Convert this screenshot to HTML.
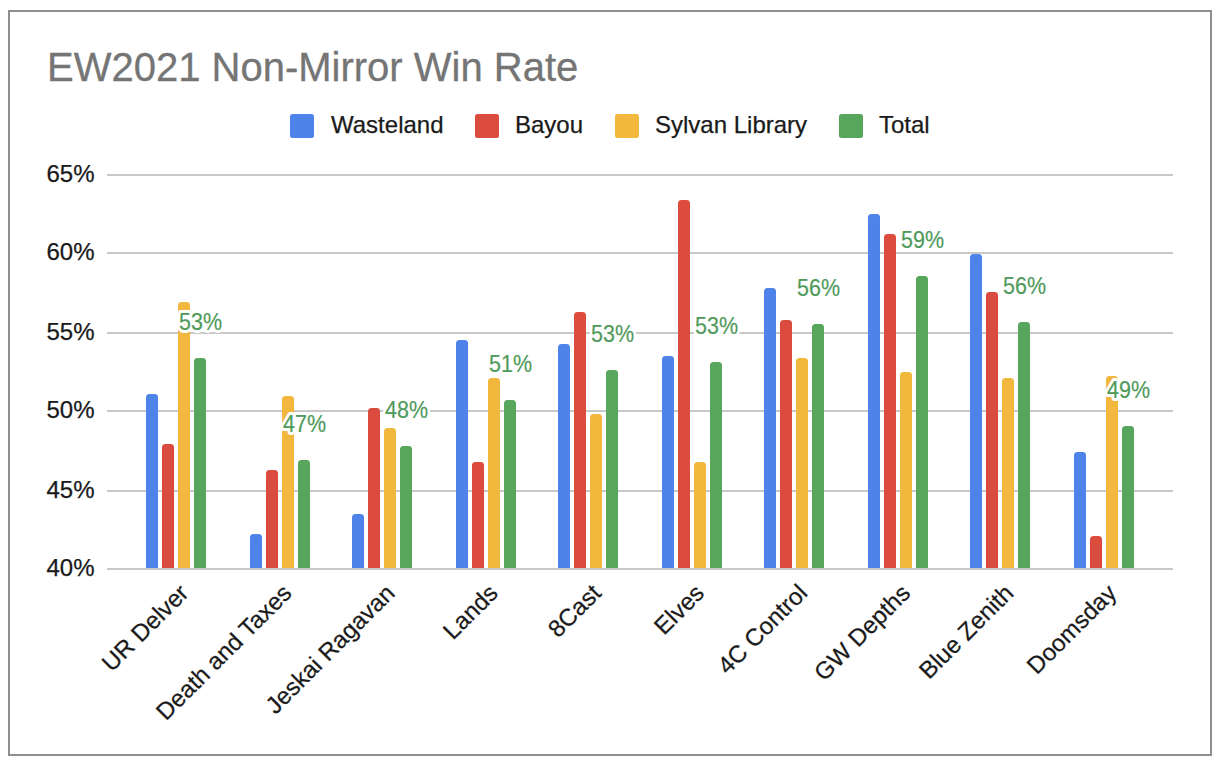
<!DOCTYPE html>
<html><head><meta charset="utf-8"><style>
html,body{margin:0;padding:0;background:#fff;width:1218px;height:762px;overflow:hidden}
svg{display:block}
.ax{font-family:"Liberation Sans",sans-serif;font-size:24px;fill:#1a1a1a;stroke:#1a1a1a;stroke-width:0.25px}
.an{font-family:"Liberation Sans",sans-serif;font-size:24px;fill:#fff;stroke:#fff;stroke-width:6px;stroke-linejoin:round}
.an2{font-family:"Liberation Sans",sans-serif;font-size:24px;fill:#509a5b;stroke:#509a5b;stroke-width:0.2px}
.ti{font-family:"Liberation Sans",sans-serif;font-size:40px;fill:#757575;stroke:#757575;stroke-width:0.3px}
.lg{font-family:"Liberation Sans",sans-serif;font-size:24px;fill:#1a1a1a;stroke:#1a1a1a;stroke-width:0.25px}
</style></head><body>
<svg width="1218" height="762" viewBox="0 0 1218 762">
<rect x="9" y="11" width="1202" height="744" fill="#fff" stroke="#8e8e8e" stroke-width="2"/>
<text x="47" y="80.5" class="ti">EW2021 Non-Mirror Win Rate</text>
<rect x="290" y="114" width="24" height="24" rx="2.5" fill="#4e83ea"/>
<text x="331" y="133" class="lg">Wasteland</text>
<rect x="475" y="114" width="24" height="24" rx="2.5" fill="#db4b3e"/>
<text x="515" y="133" class="lg">Bayou</text>
<rect x="615" y="114" width="24" height="24" rx="2.5" fill="#f2b83e"/>
<text x="655" y="133" class="lg">Sylvan Library</text>
<rect x="839" y="114" width="24" height="24" rx="2.5" fill="#58a55c"/>
<text x="879" y="133" class="lg">Total</text>
<rect x="107" y="174" width="1066" height="2" fill="#c8c8c8"/>
<rect x="107" y="252" width="1066" height="2" fill="#c8c8c8"/>
<rect x="107" y="332" width="1066" height="2" fill="#c8c8c8"/>
<rect x="107" y="410" width="1066" height="2" fill="#c8c8c8"/>
<rect x="107" y="490" width="1066" height="2" fill="#c8c8c8"/>
<rect x="107" y="568" width="1066" height="2" fill="#c8c8c8"/>
<text x="94.5" y="182" text-anchor="end" class="ax">65%</text>
<text x="94.5" y="260" text-anchor="end" class="ax">60%</text>
<text x="94.5" y="340" text-anchor="end" class="ax">55%</text>
<text x="94.5" y="418" text-anchor="end" class="ax">50%</text>
<text x="94.5" y="498" text-anchor="end" class="ax">45%</text>
<text x="94.5" y="576" text-anchor="end" class="ax">40%</text>
<path d="M146.00 568 V397.5 A3.5 3.5 0 0 1 149.50 394 H154.50 A3.5 3.5 0 0 1 158.00 397.5 V568 Z" fill="#4e83ea"/>
<path d="M162.00 568 V447.5 A3.5 3.5 0 0 1 165.50 444 H170.50 A3.5 3.5 0 0 1 174.00 447.5 V568 Z" fill="#db4b3e"/>
<path d="M178.00 568 V305.5 A3.5 3.5 0 0 1 181.50 302 H186.50 A3.5 3.5 0 0 1 190.00 305.5 V568 Z" fill="#f2b83e"/>
<path d="M194.00 568 V361.5 A3.5 3.5 0 0 1 197.50 358 H202.50 A3.5 3.5 0 0 1 206.00 361.5 V568 Z" fill="#58a55c"/>
<path d="M250.00 568 V537.5 A3.5 3.5 0 0 1 253.50 534 H258.50 A3.5 3.5 0 0 1 262.00 537.5 V568 Z" fill="#4e83ea"/>
<path d="M266.00 568 V473.5 A3.5 3.5 0 0 1 269.50 470 H274.50 A3.5 3.5 0 0 1 278.00 473.5 V568 Z" fill="#db4b3e"/>
<path d="M282.00 568 V399.5 A3.5 3.5 0 0 1 285.50 396 H290.50 A3.5 3.5 0 0 1 294.00 399.5 V568 Z" fill="#f2b83e"/>
<path d="M298.00 568 V463.5 A3.5 3.5 0 0 1 301.50 460 H306.50 A3.5 3.5 0 0 1 310.00 463.5 V568 Z" fill="#58a55c"/>
<path d="M352.00 568 V517.5 A3.5 3.5 0 0 1 355.50 514 H360.50 A3.5 3.5 0 0 1 364.00 517.5 V568 Z" fill="#4e83ea"/>
<path d="M368.00 568 V411.5 A3.5 3.5 0 0 1 371.50 408 H376.50 A3.5 3.5 0 0 1 380.00 411.5 V568 Z" fill="#db4b3e"/>
<path d="M384.00 568 V431.5 A3.5 3.5 0 0 1 387.50 428 H392.50 A3.5 3.5 0 0 1 396.00 431.5 V568 Z" fill="#f2b83e"/>
<path d="M400.00 568 V449.5 A3.5 3.5 0 0 1 403.50 446 H408.50 A3.5 3.5 0 0 1 412.00 449.5 V568 Z" fill="#58a55c"/>
<path d="M456.00 568 V343.5 A3.5 3.5 0 0 1 459.50 340 H464.50 A3.5 3.5 0 0 1 468.00 343.5 V568 Z" fill="#4e83ea"/>
<path d="M472.00 568 V465.5 A3.5 3.5 0 0 1 475.50 462 H480.50 A3.5 3.5 0 0 1 484.00 465.5 V568 Z" fill="#db4b3e"/>
<path d="M488.00 568 V381.5 A3.5 3.5 0 0 1 491.50 378 H496.50 A3.5 3.5 0 0 1 500.00 381.5 V568 Z" fill="#f2b83e"/>
<path d="M504.00 568 V403.5 A3.5 3.5 0 0 1 507.50 400 H512.50 A3.5 3.5 0 0 1 516.00 403.5 V568 Z" fill="#58a55c"/>
<path d="M558.00 568 V347.5 A3.5 3.5 0 0 1 561.50 344 H566.50 A3.5 3.5 0 0 1 570.00 347.5 V568 Z" fill="#4e83ea"/>
<path d="M574.00 568 V315.5 A3.5 3.5 0 0 1 577.50 312 H582.50 A3.5 3.5 0 0 1 586.00 315.5 V568 Z" fill="#db4b3e"/>
<path d="M590.00 568 V417.5 A3.5 3.5 0 0 1 593.50 414 H598.50 A3.5 3.5 0 0 1 602.00 417.5 V568 Z" fill="#f2b83e"/>
<path d="M606.00 568 V373.5 A3.5 3.5 0 0 1 609.50 370 H614.50 A3.5 3.5 0 0 1 618.00 373.5 V568 Z" fill="#58a55c"/>
<path d="M662.00 568 V359.5 A3.5 3.5 0 0 1 665.50 356 H670.50 A3.5 3.5 0 0 1 674.00 359.5 V568 Z" fill="#4e83ea"/>
<path d="M678.00 568 V203.5 A3.5 3.5 0 0 1 681.50 200 H686.50 A3.5 3.5 0 0 1 690.00 203.5 V568 Z" fill="#db4b3e"/>
<path d="M694.00 568 V465.5 A3.5 3.5 0 0 1 697.50 462 H702.50 A3.5 3.5 0 0 1 706.00 465.5 V568 Z" fill="#f2b83e"/>
<path d="M710.00 568 V365.5 A3.5 3.5 0 0 1 713.50 362 H718.50 A3.5 3.5 0 0 1 722.00 365.5 V568 Z" fill="#58a55c"/>
<path d="M764.00 568 V291.5 A3.5 3.5 0 0 1 767.50 288 H772.50 A3.5 3.5 0 0 1 776.00 291.5 V568 Z" fill="#4e83ea"/>
<path d="M780.00 568 V323.5 A3.5 3.5 0 0 1 783.50 320 H788.50 A3.5 3.5 0 0 1 792.00 323.5 V568 Z" fill="#db4b3e"/>
<path d="M796.00 568 V361.5 A3.5 3.5 0 0 1 799.50 358 H804.50 A3.5 3.5 0 0 1 808.00 361.5 V568 Z" fill="#f2b83e"/>
<path d="M812.00 568 V327.5 A3.5 3.5 0 0 1 815.50 324 H820.50 A3.5 3.5 0 0 1 824.00 327.5 V568 Z" fill="#58a55c"/>
<path d="M868.00 568 V217.5 A3.5 3.5 0 0 1 871.50 214 H876.50 A3.5 3.5 0 0 1 880.00 217.5 V568 Z" fill="#4e83ea"/>
<path d="M884.00 568 V237.5 A3.5 3.5 0 0 1 887.50 234 H892.50 A3.5 3.5 0 0 1 896.00 237.5 V568 Z" fill="#db4b3e"/>
<path d="M900.00 568 V375.5 A3.5 3.5 0 0 1 903.50 372 H908.50 A3.5 3.5 0 0 1 912.00 375.5 V568 Z" fill="#f2b83e"/>
<path d="M916.00 568 V279.5 A3.5 3.5 0 0 1 919.50 276 H924.50 A3.5 3.5 0 0 1 928.00 279.5 V568 Z" fill="#58a55c"/>
<path d="M970.00 568 V257.5 A3.5 3.5 0 0 1 973.50 254 H978.50 A3.5 3.5 0 0 1 982.00 257.5 V568 Z" fill="#4e83ea"/>
<path d="M986.00 568 V295.5 A3.5 3.5 0 0 1 989.50 292 H994.50 A3.5 3.5 0 0 1 998.00 295.5 V568 Z" fill="#db4b3e"/>
<path d="M1002.00 568 V381.5 A3.5 3.5 0 0 1 1005.50 378 H1010.50 A3.5 3.5 0 0 1 1014.00 381.5 V568 Z" fill="#f2b83e"/>
<path d="M1018.00 568 V325.5 A3.5 3.5 0 0 1 1021.50 322 H1026.50 A3.5 3.5 0 0 1 1030.00 325.5 V568 Z" fill="#58a55c"/>
<path d="M1074.00 568 V455.5 A3.5 3.5 0 0 1 1077.50 452 H1082.50 A3.5 3.5 0 0 1 1086.00 455.5 V568 Z" fill="#4e83ea"/>
<path d="M1090.00 568 V539.5 A3.5 3.5 0 0 1 1093.50 536 H1098.50 A3.5 3.5 0 0 1 1102.00 539.5 V568 Z" fill="#db4b3e"/>
<path d="M1106.00 568 V379.5 A3.5 3.5 0 0 1 1109.50 376 H1114.50 A3.5 3.5 0 0 1 1118.00 379.5 V568 Z" fill="#f2b83e"/>
<path d="M1122.00 568 V429.5 A3.5 3.5 0 0 1 1125.50 426 H1130.50 A3.5 3.5 0 0 1 1134.00 429.5 V568 Z" fill="#58a55c"/>
<text x="179.00" y="330" class="an" textLength="43" lengthAdjust="spacingAndGlyphs">53%</text>
<text x="179.00" y="330" class="an2" textLength="43" lengthAdjust="spacingAndGlyphs">53%</text>
<text x="283.00" y="432" class="an" textLength="43" lengthAdjust="spacingAndGlyphs">47%</text>
<text x="283.00" y="432" class="an2" textLength="43" lengthAdjust="spacingAndGlyphs">47%</text>
<text x="385.00" y="418" class="an" textLength="43" lengthAdjust="spacingAndGlyphs">48%</text>
<text x="385.00" y="418" class="an2" textLength="43" lengthAdjust="spacingAndGlyphs">48%</text>
<text x="489.00" y="372" class="an" textLength="43" lengthAdjust="spacingAndGlyphs">51%</text>
<text x="489.00" y="372" class="an2" textLength="43" lengthAdjust="spacingAndGlyphs">51%</text>
<text x="591.00" y="342" class="an" textLength="43" lengthAdjust="spacingAndGlyphs">53%</text>
<text x="591.00" y="342" class="an2" textLength="43" lengthAdjust="spacingAndGlyphs">53%</text>
<text x="695.00" y="334" class="an" textLength="43" lengthAdjust="spacingAndGlyphs">53%</text>
<text x="695.00" y="334" class="an2" textLength="43" lengthAdjust="spacingAndGlyphs">53%</text>
<text x="797.00" y="296" class="an" textLength="43" lengthAdjust="spacingAndGlyphs">56%</text>
<text x="797.00" y="296" class="an2" textLength="43" lengthAdjust="spacingAndGlyphs">56%</text>
<text x="901.00" y="248" class="an" textLength="43" lengthAdjust="spacingAndGlyphs">59%</text>
<text x="901.00" y="248" class="an2" textLength="43" lengthAdjust="spacingAndGlyphs">59%</text>
<text x="1003.00" y="294" class="an" textLength="43" lengthAdjust="spacingAndGlyphs">56%</text>
<text x="1003.00" y="294" class="an2" textLength="43" lengthAdjust="spacingAndGlyphs">56%</text>
<text x="1107.00" y="398" class="an" textLength="43" lengthAdjust="spacingAndGlyphs">49%</text>
<text x="1107.00" y="398" class="an2" textLength="43" lengthAdjust="spacingAndGlyphs">49%</text>
<text transform="translate(190.00,594.5) rotate(-45)" text-anchor="end" class="ax">UR Delver</text>
<text transform="translate(293.11,594.5) rotate(-45)" text-anchor="end" class="ax">Death and Taxes</text>
<text transform="translate(396.22,594.5) rotate(-45)" text-anchor="end" class="ax">Jeskai Ragavan</text>
<text transform="translate(499.33,594.5) rotate(-45)" text-anchor="end" class="ax">Lands</text>
<text transform="translate(602.44,594.5) rotate(-45)" text-anchor="end" class="ax">8Cast</text>
<text transform="translate(705.55,594.5) rotate(-45)" text-anchor="end" class="ax">Elves</text>
<text transform="translate(808.66,594.5) rotate(-45)" text-anchor="end" class="ax">4C Control</text>
<text transform="translate(911.77,594.5) rotate(-45)" text-anchor="end" class="ax">GW Depths</text>
<text transform="translate(1014.88,594.5) rotate(-45)" text-anchor="end" class="ax">Blue Zenith</text>
<text transform="translate(1117.99,594.5) rotate(-45)" text-anchor="end" class="ax">Doomsday</text>
</svg>
</body></html>
